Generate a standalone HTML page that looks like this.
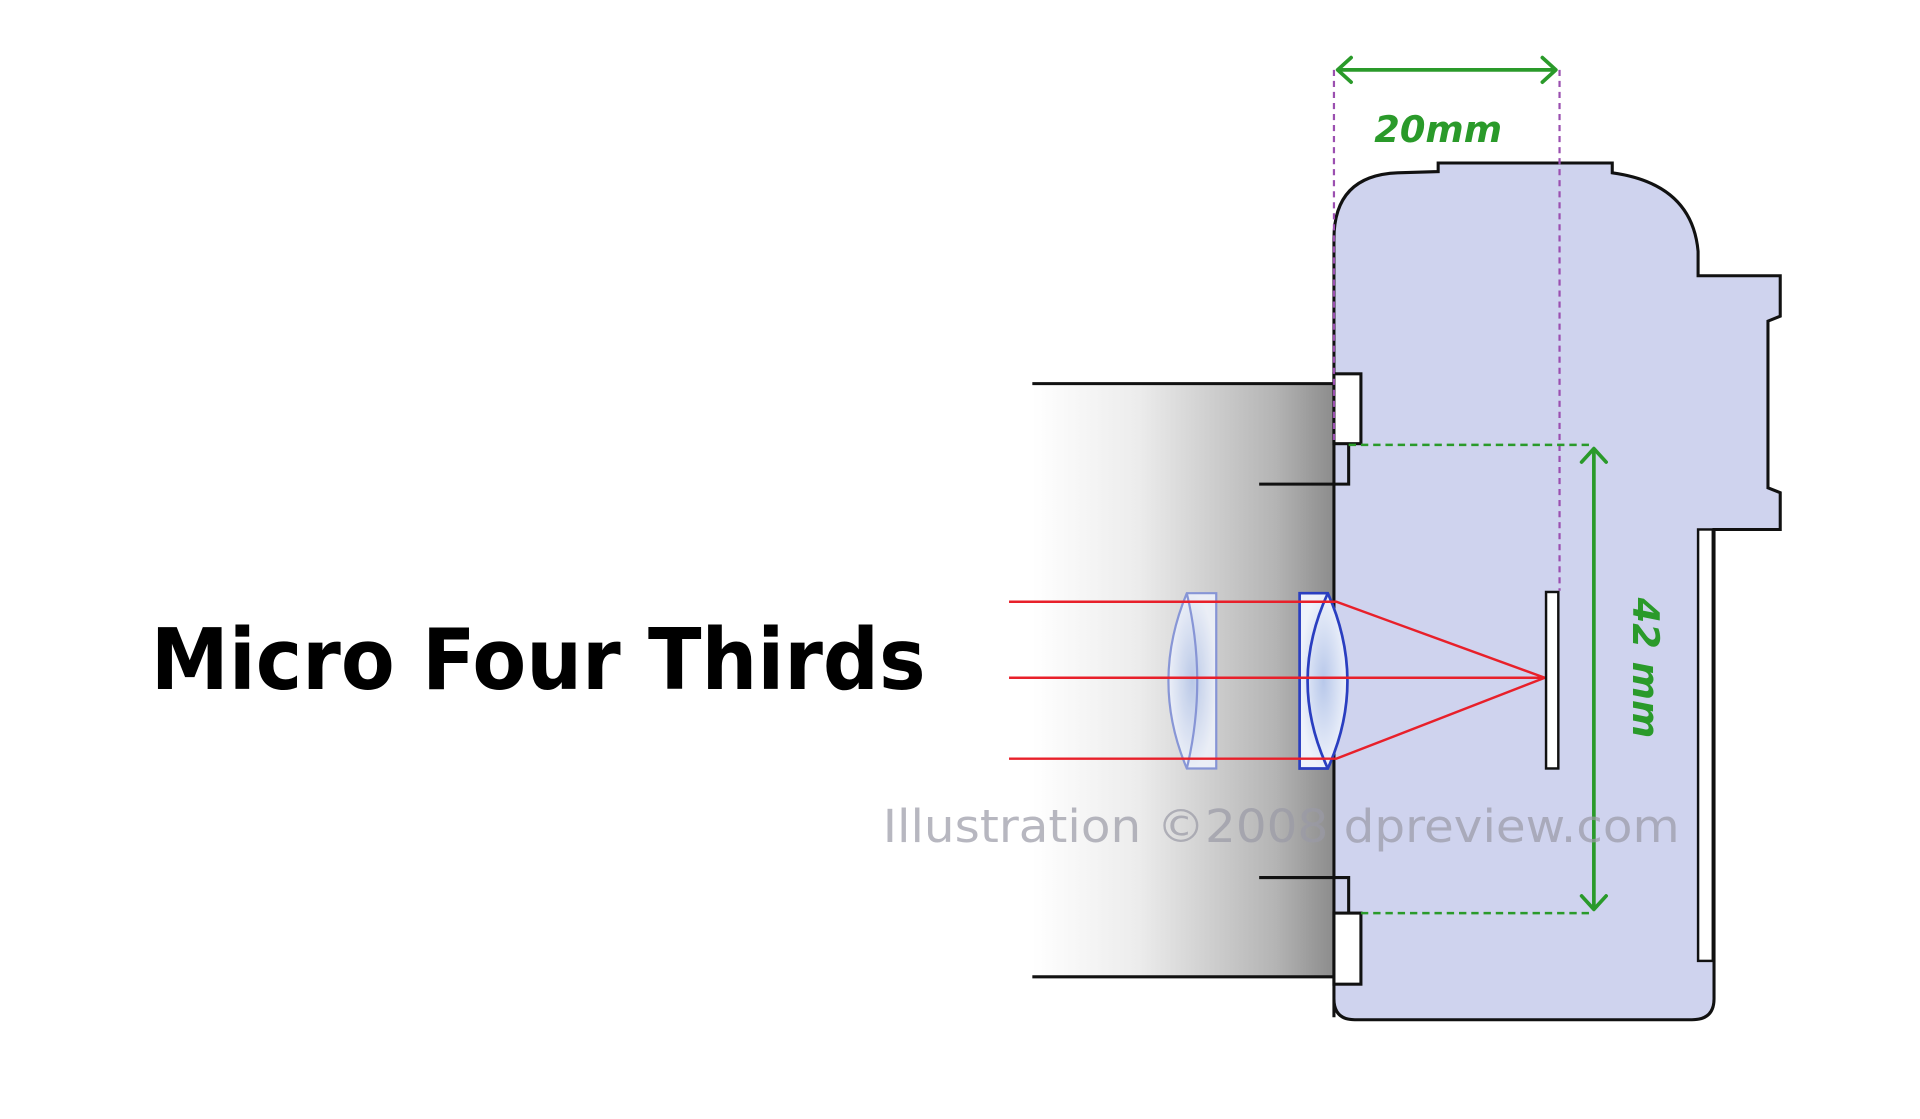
<!DOCTYPE html>
<html><head><meta charset="utf-8"><style>
html,body{margin:0;padding:0;background:#fff;}
svg{display:block;}
</style></head><body>
<svg width="1920" height="1119" viewBox="0 0 1566 913" preserveAspectRatio="none" xmlns="http://www.w3.org/2000/svg">
<defs>
<linearGradient id="g" x1="0" x2="1" y1="0" y2="0">
<stop offset="0" stop-color="#ffffff"/>
<stop offset="0.35" stop-color="#ececec"/>
<stop offset="0.8" stop-color="#b4b4b4"/>
<stop offset="1" stop-color="#8a8a8a"/>
</linearGradient>
<radialGradient id="lg" cx="0.5" cy="0.5" r="0.5">
<stop offset="0" stop-color="#b8c8ea"/>
<stop offset="1" stop-color="#eef2fb"/>
</radialGradient>
</defs>
<rect width="1566" height="913" fill="#fff"/>
<rect x="842" y="313" width="248" height="484" fill="url(#g)"/>
<path d="M1088,830 L1088,195 Q1088,143 1140,141 L1173,140 L1173,133 L1315,133 L1315,141 Q1380,150 1385,205 L1385,225 L1452,225 L1452,258 L1442,262 L1442,398 L1452,402 L1452,432 L1398,432 L1398,815 Q1398,832 1380,832 L1105,832 Q1088,832 1088,815 Z" fill="#cfd3ee" stroke="#111" stroke-width="2.5"/>
<rect x="1385" y="432" width="12" height="352" fill="#fff" stroke="#111" stroke-width="2"/>
<line x1="842" y1="313" x2="1088" y2="313" stroke="#111" stroke-width="2.5"/>
<line x1="842" y1="797" x2="1088" y2="797" stroke="#111" stroke-width="2.5"/>
<polyline points="1027,395 1100,395 1100,362" fill="none" stroke="#111" stroke-width="2.5"/>
<polyline points="1027,716 1100,716 1100,745" fill="none" stroke="#111" stroke-width="2.5"/>
<rect x="1088" y="305" width="22" height="57" fill="#fff" stroke="#111" stroke-width="2.5"/>
<rect x="1088" y="745" width="22" height="58" fill="#fff" stroke="#111" stroke-width="2.5"/>
<g stroke="#7f8fd6" stroke-width="1.8" fill="url(#lg)" opacity="0.9">
<path d="M968,484 L992,484 L992,627 L968,627 Q938,556 968,484 Z"/>
<path d="M968,484 Q985,556 968,627" fill="none"/>
</g>
<g stroke="#2a3ec0" stroke-width="2.2" fill="url(#lg)">
<path d="M1060,484 L1083,484 Q1115,556 1083,627 L1060,627 Z"/>
<path d="M1083,484 Q1050,556 1083,627" fill="none"/>
</g>
<g stroke="#e8202a" stroke-width="2" fill="none">
<polyline points="823,491 1090,491 1260,553"/>
<line x1="823" y1="553" x2="1260" y2="553"/>
<polyline points="823,619 1090,619 1260,553"/>
</g>
<rect x="1261" y="483" width="10" height="144" fill="#fff" stroke="#111" stroke-width="2"/>
<g stroke="#9b4fb0" stroke-width="1.8" stroke-dasharray="5,4" fill="none">
<line x1="1088" y1="57" x2="1088" y2="360"/>
<line x1="1272" y1="57" x2="1272" y2="482"/>
</g>
<g stroke="#2a9a2a" stroke-width="2" stroke-dasharray="6,4" fill="none">
<line x1="1100" y1="363" x2="1300" y2="363"/>
<line x1="1110" y1="745" x2="1300" y2="745"/>
</g>
<g stroke="#2a9a2a" stroke-width="3" fill="none" stroke-linecap="round" stroke-linejoin="round">
<line x1="1092" y1="57" x2="1268" y2="57"/>
<polyline points="1102,47 1091,57 1102,67"/>
<polyline points="1258,47 1269,57 1258,67"/>
<line x1="1300" y1="367" x2="1300" y2="741"/>
<polyline points="1290,377 1300,366 1310,377"/>
<polyline points="1290,731 1300,742 1310,731"/>
</g>
<text x="1173" y="116" font-family="DejaVu Sans, Liberation Sans, sans-serif" font-weight="bold" font-style="italic" font-size="30" fill="#2a9a2a" text-anchor="middle">20mm</text>
<text transform="translate(1332,545) rotate(90)" font-family="DejaVu Sans, Liberation Sans, sans-serif" font-weight="bold" font-style="italic" font-size="30" fill="#2a9a2a" text-anchor="middle">42 mm</text>
<text x="720" y="687" font-family="DejaVu Sans, Liberation Sans, sans-serif" font-size="37" fill="#9a9aa6" opacity="0.7" textLength="650" lengthAdjust="spacingAndGlyphs">Illustration ©2008 dpreview.com</text>
<text x="123" y="562" font-family="DejaVu Sans, Liberation Sans, sans-serif" font-weight="bold" font-size="69" fill="#000" textLength="632" lengthAdjust="spacingAndGlyphs">Micro Four Thirds</text>
</svg>
</body></html>
